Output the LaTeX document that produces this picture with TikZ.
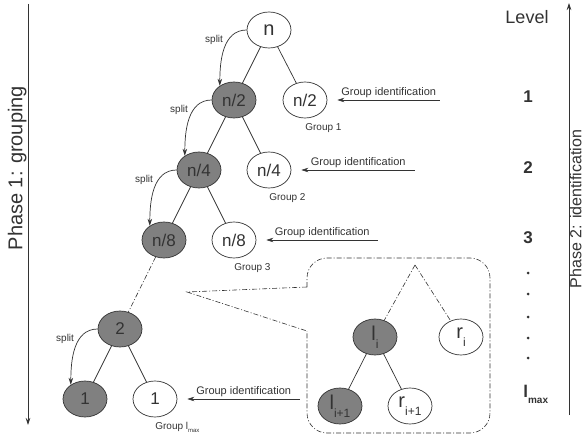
\documentclass[tikz,border=0pt]{standalone}
\usepackage{fontspec}
\setmainfont{Liberation Sans}
\usetikzlibrary{arrows.meta,positioning,shapes.geometric}

\definecolor{ink}{HTML}{333333}
\definecolor{shade}{HTML}{808080}

\newcommand{\idx}[1]{\raisebox{-8pt}{\fontsize{12}{12}\selectfont #1}}

\begin{document}
\begin{tikzpicture}[x=1pt,y=-1pt,color=ink,line width=0.7pt,>={Stealth[length=7pt,width=4.5pt]},
	node distance=70pt and 35pt,on grid,
	vertex/.style={ellipse,draw,minimum width=44pt,minimum height=36pt,inner sep=0pt,font=\fontsize{17}{17}\selectfont},
	splitnode/.style={vertex,fill=shade},
	groupnode/.style={vertex,fill=white},
	bigtext/.style={font=\fontsize{20}{20}\selectfont},
	splitlbl/.style={pos=0.35,left=5pt,inner sep=0pt,font=\fontsize{10}{10}\selectfont},
	idlbl/.style={above,inner sep=1.5pt,font=\fontsize{11}{11}\selectfont},
	grouplbl/.style={anchor=north west,inner sep=0pt,font=\fontsize{10}{10}\selectfont},
	levellbl/.style={font=\fontsize{17}{17}\selectfont\bfseries},
	zoomline/.style={line width=0.6pt,dash pattern=on 5pt off 2pt on 1pt off 2pt}]

	\useasboundingbox[fill=white] (0,0) rectangle (587,441);

	\node[groupnode,bigtext] (n)          at (269,30) {n};
	\node[splitnode]         (half)       [below left=of n] {n/2};
	\node[groupnode]         (halfgrp)    [below right=70pt and 36pt of n] {n/2};
	\node[splitnode]         (quarter)    [below left=of half] {n/4};
	\node[groupnode]         (quartergrp) [below right=of half] {n/4};
	\node[splitnode]         (eighth)     [below left=of quarter] {n/8};
	\node[groupnode]         (eighthgrp)  [below right=of quarter] {n/8};
	\node[splitnode]         (two)        [below left=89pt and 44pt of eighth] {2};
	\node[splitnode]         (one)        [below left=of two] {1};
	\node[groupnode]         (onegrp)     [below right=of two] {1};

	\node[grouplbl] (grp1)   at ([yshift=-5pt]halfgrp.south) {Group 1};
	\node[grouplbl] (grp2)   at ([yshift=-5pt]quartergrp.south) {Group 2};
	\node[grouplbl] (grp3)   at ([yshift=-5pt]eighthgrp.south) {Group 3};
	\node[grouplbl] (grpmax) at ([yshift=-5pt]onegrp.south) {Group l\raisebox{-3pt}{\fontsize{6}{6}\selectfont max}};

	\draw (n) -- (half) (n) -- (halfgrp)
		(half) -- (quarter) (half) -- (quartergrp)
		(quarter) -- (eighth) (quarter) -- (eighthgrp)
		(two) -- (one) (two) -- (onegrp);

	\draw[->] (n.west) to[out=180,in=90] node[splitlbl] {split} (half.135);
	\draw[->] (half.west) to[out=180,in=90] node[splitlbl] {split} (quarter.135);
	\draw[->] (quarter.west) to[out=180,in=90] node[splitlbl] {split} (eighth.135);
	\draw[->] (two.west) to[out=180,in=90] node[splitlbl] {split} (one.135);

	\coordinate (id1) at (440,100);
	\coordinate (id2) at (415,170);
	\coordinate (id3) at (378,240);
	\coordinate (id4) at (300,399);
	\draw[<-] ([xshift=10pt]halfgrp.east) -- node[idlbl] {Group identification} (id1);
	\draw[<-] ([xshift=10pt]quartergrp.east) -- node[idlbl] {Group identification} (id2);
	\draw[<-] ([xshift=10pt]eighthgrp.east) -- node[idlbl] {Group identification} (id3);
	\draw[<-] ([xshift=10pt]onegrp.east) -- node[idlbl] {Group identification} (id4);

	\draw[zoomline] (eighth) -- (two);
	\coordinate (lens)    at (187,292);
	\coordinate (lensup)  at (307,287);
	\coordinate (lenslow) at (307,331);
	\draw[zoomline] (lensup) -- (lens) -- (lenslow);
	\draw[zoomline,rounded corners=20pt] (lensup) -- (307,258) -- (490,258) -- (490,433) -- (307,433) -- (lenslow);

	\coordinate (apex) at (415,265);
	\node[splitnode,bigtext] (li)     at (375,337) {l\idx{i}};
	\node[groupnode,bigtext] (ri)     at (461,337) {r\idx{i}};
	\node[splitnode,bigtext] (linext) [below left=69pt and 35pt of li] {l\idx{i+1}};
	\node[groupnode,bigtext] (rinext) [below right=69pt and 35pt of li] {r\idx{i+1}};
	\draw[zoomline] (apex) -- (li) (apex) -- (ri);
	\draw (li) -- (linext) (li) -- (rinext);

	\node[font=\fontsize{18}{18}\selectfont] (level) at (527,17) {Level};
	\node[levellbl] (lv1) at (528,97) {1};
	\node[levellbl] (lv2) at (528,168) {2};
	\node[levellbl] (lv3) at (528,238) {3};
	\foreach \y in {273,294,317,338,358}
		\fill (528,\y) circle (1.5pt);
	\node[levellbl,anchor=base west,inner sep=0pt] (lvmax) at (523,397) {l\raisebox{-6pt}{\fontsize{10}{10}\selectfont\bfseries max}};

	\coordinate (p1top) at (28,4);
	\coordinate (p1bot) at (28,425);
	\draw[->] (p1top) -- node[pos=0.39,rotate=90,anchor=south,inner sep=1pt,bigtext] {Phase 1: grouping} (p1bot);
	\coordinate (p2bot) at (569,415);
	\coordinate (p2top) at (569,3);
	\draw[->] (p2bot) -- node[pos=0.5,rotate=90,anchor=north,inner sep=0.5pt,font=\fontsize{16}{16}\selectfont] {Phase 2: identification} (p2top);

\end{tikzpicture}
\end{document}
